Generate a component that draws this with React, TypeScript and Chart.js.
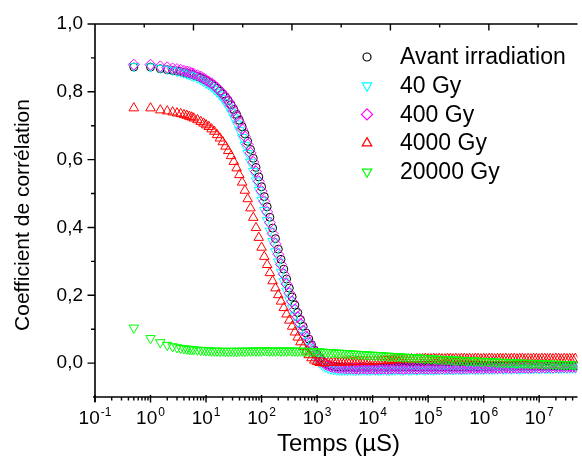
import React, { useEffect, useRef } from 'react';
import { Chart, registerables } from 'chart.js';

Chart.register(...registerables);

const FONT = '"Liberation Sans", Arial, sans-serif';

// Lag times (µs)
const TIME = [
  0.5, 1, 1.5, 2, 2.5, 3, 3.5, 4, 4.5, 5, 5.5, 6, 7, 8, 9,
  1e1, 1.12e1, 1.26e1, 1.41e1, 1.58e1, 1.78e1, 2e1, 2.24e1, 2.51e1, 2.82e1, 3.16e1, 3.55e1, 3.98e1, 4.47e1, 5.01e1, 5.62e1, 6.31e1, 7.08e1, 7.94e1, 8.91e1,
  1e2, 1.12e2, 1.26e2, 1.41e2, 1.58e2, 1.78e2, 2e2, 2.24e2, 2.51e2, 2.82e2, 3.16e2, 3.55e2, 3.98e2, 4.47e2, 5.01e2, 5.62e2, 6.31e2, 7.08e2, 7.94e2, 8.91e2,
  1e3, 1.12e3, 1.26e3, 1.41e3, 1.58e3, 1.78e3, 2e3, 2.24e3, 2.51e3, 2.82e3, 3.16e3, 3.55e3, 3.98e3, 4.47e3, 5.01e3, 5.62e3, 6.31e3, 7.08e3, 7.94e3, 8.91e3,
  1e4, 1.12e4, 1.26e4, 1.41e4, 1.58e4, 1.78e4, 2e4, 2.24e4, 2.51e4, 2.82e4, 3.16e4, 3.55e4, 3.98e4, 4.47e4, 5.01e4, 5.62e4, 6.31e4, 7.08e4, 7.94e4, 8.91e4,
  1e5, 1.12e5, 1.26e5, 1.41e5, 1.58e5, 1.78e5, 2e5, 2.24e5, 2.51e5, 2.82e5, 3.16e5, 3.55e5, 3.98e5, 4.47e5, 5.01e5, 5.62e5, 6.31e5, 7.08e5, 7.94e5, 8.91e5,
  1e6, 1.12e6, 1.26e6, 1.41e6, 1.58e6, 1.78e6, 2e6, 2.24e6, 2.51e6, 2.82e6, 3.16e6, 3.55e6, 3.98e6, 4.47e6, 5.01e6, 5.62e6, 6.31e6, 7.08e6, 7.94e6, 8.91e6,
  1e7, 1.12e7, 1.26e7, 1.41e7, 1.58e7, 1.78e7, 2e7, 2.24e7, 2.51e7, 2.82e7, 3.16e7, 3.55e7, 3.98e7, 4.47e7,
];

const AVANT = [
  0.873, 0.873, 0.868, 0.865, 0.863, 0.861, 0.859, 0.857, 0.855, 0.853, 0.851, 0.849, 0.845, 0.841, 0.837,
  0.833, 0.828, 0.823, 0.817, 0.810, 0.802, 0.794, 0.785, 0.774, 0.762, 0.748, 0.733, 0.716, 0.697, 0.676, 0.654, 0.630, 0.604, 0.577, 0.549,
  0.520, 0.491, 0.461, 0.430, 0.398, 0.367, 0.336, 0.306, 0.277, 0.248, 0.221, 0.195, 0.171, 0.149, 0.128, 0.108, 0.089, 0.071, 0.054, 0.039,
  0.026, 0.015, 0.006, -0.001, -0.005, -0.008, -0.010, -0.011, -0.012, -0.012, -0.013, -0.012, -0.012, -0.013, -0.012, -0.013, -0.012, -0.012, -0.013, -0.012,
  -0.012, -0.013, -0.012, -0.012, -0.012, -0.013, -0.012, -0.012, -0.011, -0.012, -0.012, -0.012, -0.011, -0.012, -0.012, -0.011, -0.012, -0.011, -0.012, -0.011,
  -0.011, -0.012, -0.011, -0.011, -0.012, -0.011, -0.011, -0.010, -0.011, -0.011, -0.010, -0.011, -0.011, -0.010, -0.011, -0.010, -0.010, -0.011, -0.010, -0.010,
  -0.010, -0.011, -0.010, -0.010, -0.009, -0.010, -0.010, -0.009, -0.010, -0.010, -0.009, -0.010, -0.009, -0.009, -0.010, -0.009, -0.009, -0.010, -0.009, -0.009,
  -0.009, -0.010, -0.009, -0.009, -0.008, -0.009, -0.009, -0.008, -0.009, -0.009, -0.008, -0.009, -0.008, -0.008,
];

const GY40 = [
  0.875, 0.874, 0.870, 0.867, 0.864, 0.861, 0.859, 0.856, 0.853, 0.851, 0.848, 0.846, 0.841, 0.836, 0.831,
  0.826, 0.821, 0.815, 0.808, 0.800, 0.791, 0.781, 0.769, 0.756, 0.741, 0.724, 0.706, 0.687, 0.666, 0.643, 0.619, 0.593, 0.566, 0.538, 0.510,
  0.481, 0.451, 0.421, 0.390, 0.359, 0.329, 0.299, 0.269, 0.241, 0.213, 0.187, 0.163, 0.140, 0.119, 0.099, 0.081, 0.064, 0.048, 0.034, 0.021,
  0.010, 0.001, -0.006, -0.011, -0.015, -0.017, -0.019, -0.020, -0.020, -0.021, -0.020, -0.021, -0.020, -0.020, -0.021, -0.020, -0.021, -0.020, -0.020, -0.021,
  -0.020, -0.020, -0.021, -0.020, -0.020, -0.020, -0.021, -0.020, -0.020, -0.019, -0.020, -0.020, -0.019, -0.020, -0.020, -0.019, -0.020, -0.019, -0.019, -0.020,
  -0.019, -0.019, -0.020, -0.019, -0.019, -0.018, -0.019, -0.019, -0.018, -0.019, -0.018, -0.018, -0.019, -0.018, -0.018, -0.018, -0.017, -0.018, -0.018, -0.017,
  -0.018, -0.017, -0.017, -0.018, -0.017, -0.017, -0.016, -0.017, -0.017, -0.016, -0.017, -0.016, -0.016, -0.017, -0.016, -0.016, -0.015, -0.016, -0.016, -0.015,
  -0.016, -0.015, -0.015, -0.016, -0.015, -0.015, -0.014, -0.015, -0.015, -0.014, -0.015, -0.014, -0.014, -0.014,
];

const GY400 = [
  0.880, 0.880, 0.875, 0.872, 0.869, 0.867, 0.865, 0.862, 0.860, 0.858, 0.855, 0.853, 0.849, 0.845, 0.840,
  0.835, 0.830, 0.825, 0.819, 0.811, 0.803, 0.794, 0.784, 0.772, 0.759, 0.744, 0.728, 0.710, 0.690, 0.668, 0.645, 0.620, 0.593, 0.565, 0.536,
  0.507, 0.477, 0.446, 0.414, 0.382, 0.352, 0.321, 0.291, 0.262, 0.233, 0.206, 0.181, 0.158, 0.136, 0.116, 0.096, 0.079, 0.062, 0.047, 0.033,
  0.021, 0.011, 0.003, -0.003, -0.007, -0.010, -0.012, -0.013, -0.014, -0.015, -0.015, -0.016, -0.015, -0.016, -0.016, -0.017, -0.016, -0.016, -0.017, -0.016,
  -0.016, -0.017, -0.016, -0.016, -0.016, -0.017, -0.016, -0.016, -0.015, -0.016, -0.016, -0.017, -0.016, -0.016, -0.015, -0.016, -0.016, -0.015, -0.016, -0.016,
  -0.016, -0.015, -0.016, -0.016, -0.015, -0.016, -0.015, -0.015, -0.016, -0.015, -0.015, -0.015, -0.016, -0.015, -0.015, -0.014, -0.015, -0.015, -0.014, -0.015,
  -0.015, -0.014, -0.015, -0.014, -0.014, -0.015, -0.014, -0.014, -0.013, -0.014, -0.014, -0.013, -0.014, -0.013, -0.013, -0.013, -0.014, -0.013, -0.013, -0.012,
  -0.013, -0.012, -0.013, -0.012, -0.012, -0.013, -0.012, -0.012, -0.011, -0.012, -0.012, -0.011, -0.012, -0.011,
];

const GY4000 = [
  0.752, 0.752, 0.746, 0.743, 0.740, 0.737, 0.735, 0.732, 0.730, 0.727, 0.725, 0.722, 0.717, 0.712, 0.707,
  0.702, 0.697, 0.690, 0.683, 0.673, 0.663, 0.652, 0.639, 0.626, 0.611, 0.594, 0.575, 0.555, 0.533, 0.509, 0.484, 0.457, 0.429, 0.399, 0.370,
  0.341, 0.314, 0.290, 0.266, 0.242, 0.221, 0.201, 0.182, 0.163, 0.144, 0.126, 0.108, 0.091, 0.076, 0.062, 0.048, 0.035, 0.024, 0.015, 0.008,
  0.004, 0.001, 0.000, 0.000, 0.001, 0.001, 0.002, 0.002, 0.002, 0.003, 0.003, 0.003, 0.004, 0.003, 0.004, 0.004, 0.004, 0.005, 0.004, 0.005,
  0.005, 0.006, 0.006, 0.007, 0.007, 0.008, 0.008, 0.009, 0.009, 0.010, 0.010, 0.011, 0.011, 0.011, 0.012, 0.011, 0.012, 0.012, 0.012, 0.013,
  0.012, 0.012, 0.013, 0.012, 0.013, 0.012, 0.012, 0.013, 0.013, 0.012, 0.013, 0.012, 0.013, 0.013, 0.012, 0.013, 0.012, 0.013, 0.013, 0.012,
  0.013, 0.012, 0.013, 0.013, 0.012, 0.013, 0.013, 0.012, 0.013, 0.012, 0.013, 0.013, 0.012, 0.013, 0.013, 0.012, 0.013, 0.012, 0.013, 0.013,
  0.012, 0.013, 0.013, 0.012, 0.013, 0.012, 0.013, 0.013, 0.012, 0.013, 0.012, 0.013, 0.012, 0.013,
];

const GY20000 = [
  0.104, 0.073, 0.061, 0.053, 0.049, 0.046, 0.044, 0.043, 0.042, 0.041, 0.040, 0.040, 0.039, 0.038, 0.038,
  0.037, 0.037, 0.036, 0.036, 0.036, 0.035, 0.036, 0.035, 0.035, 0.036, 0.035, 0.035, 0.036, 0.036, 0.035, 0.036, 0.036, 0.037, 0.036, 0.036,
  0.036, 0.037, 0.037, 0.036, 0.036, 0.036, 0.037, 0.036, 0.036, 0.036, 0.037, 0.036, 0.036, 0.035, 0.036, 0.036, 0.035, 0.035, 0.035, 0.034,
  0.034, 0.034, 0.033, 0.032, 0.032, 0.031, 0.031, 0.030, 0.030, 0.029, 0.029, 0.028, 0.028, 0.027, 0.027, 0.026, 0.026, 0.025, 0.025, 0.024,
  0.024, 0.023, 0.023, 0.022, 0.022, 0.021, 0.021, 0.020, 0.020, 0.019, 0.019, 0.018, 0.018, 0.017, 0.017, 0.016, 0.016, 0.015, 0.015, 0.014,
  0.014, 0.013, 0.013, 0.012, 0.012, 0.011, 0.011, 0.011, 0.010, 0.010, 0.009, 0.009, 0.009, 0.008, 0.008, 0.007, 0.007, 0.007, 0.006, 0.006,
  0.005, 0.005, 0.005, 0.004, 0.004, 0.003, 0.003, 0.003, 0.002, 0.002, 0.002, 0.001, 0.001, 0.001, 0.000, 0.000, 0.000, -0.001, -0.001, -0.001,
  -0.001, -0.002, -0.002, -0.002, -0.002, -0.003, -0.003, -0.003, -0.003, -0.004, -0.004, -0.004, -0.004, -0.005,
];

const SERIES_LABELS = ['Avant irradiation', '40 Gy', '400 Gy', '4000 Gy', '20000 Gy'];
const SERIES_VALUES = [AVANT, GY40, GY400, GY4000, GY20000];
const SERIES_COLORS = ['#000000', '#00FFFF', '#FF00FF', '#FF0000', '#00FF00'];
const SERIES_STYLES = ['circle', 'triangle', 'rectRot', 'triangle', 'triangle'];
const SERIES_ROTATION = [0, 180, 0, 0, 180];
const SERIES_RADIUS = [4, 5.5, 5.5, 5.5, 5.5];
const SERIES_ORDER = [5, 4, 3, 2, 1];

const X_MIN = 0.1;
const X_MAX = 4.9e7;
const Y_MIN = -0.1;
const Y_MAX = 1.0;
const X_DECADES = [-1, 0, 1, 2, 3, 4, 5, 6, 7];
const Y_TICKS = [0, 0.2, 0.4, 0.6, 0.8, 1.0];
const Y_MINOR = [0.1, 0.3, 0.5, 0.7, 0.9];
const TOP_TICKS = [5e6, 1e7, 1.5e7, 2e7, 2.5e7, 3e7, 3.5e7, 4e7, 4.5e7];

const X_TITLE = 'Temps (µS)';
const Y_TITLE = 'Coefficient de corrélation';

function drawMarker(ctx: CanvasRenderingContext2D, style: string, rot: number, x: number, y: number, r: number) {
  ctx.beginPath();
  if (style === 'circle') {
    ctx.arc(x, y, r, 0, Math.PI * 2);
  } else if (style === 'rectRot') {
    ctx.moveTo(x, y - r);
    ctx.lineTo(x + r, y);
    ctx.lineTo(x, y + r);
    ctx.lineTo(x - r, y);
    ctx.closePath();
  } else {
    let a = (rot * Math.PI) / 180;
    for (let i = 0; i < 3; i++) {
      const px = x + Math.sin(a) * r;
      const py = y - Math.cos(a) * r;
      if (i === 0) ctx.moveTo(px, py);
      else ctx.lineTo(px, py);
      a += (2 * Math.PI) / 3;
    }
    ctx.closePath();
  }
  ctx.stroke();
}

const decorPlugin = {
  id: 'decor',
  afterDraw(chart: any) {
    const { ctx, chartArea: a, scales } = chart;
    const xs = scales.x;
    const ys = scales.y;
    const xt = scales.xTop;
    ctx.save();
    ctx.strokeStyle = '#000';
    ctx.fillStyle = '#000';
    ctx.lineWidth = 1.6;
    ctx.lineCap = 'butt';

    ctx.beginPath();
    ctx.moveTo(a.left, a.top);
    ctx.lineTo(a.left, a.bottom + 5);
    ctx.moveTo(a.left - 2, a.bottom);
    ctx.lineTo(a.right, a.bottom);
    ctx.moveTo(a.left, a.top);
    ctx.lineTo(a.right, a.top);
    ctx.stroke();

    ctx.lineWidth = 1.4;
    ctx.beginPath();
    for (const v of Y_TICKS) {
      const py = ys.getPixelForValue(v);
      ctx.moveTo(a.left - 7.5, py);
      ctx.lineTo(a.left, py);
    }
    for (const v of Y_MINOR) {
      const py = ys.getPixelForValue(v);
      ctx.moveTo(a.left - 4, py);
      ctx.lineTo(a.left, py);
    }
    for (const d of X_DECADES) {
      const base = Math.pow(10, d);
      const px = xs.getPixelForValue(base);
      ctx.moveTo(px, a.bottom - 2);
      ctx.lineTo(px, a.bottom + 5.5);
      for (let k = 2; k <= 9; k++) {
        const v = k * base;
        if (v > X_MAX) break;
        const pm = xs.getPixelForValue(v);
        ctx.moveTo(pm, a.bottom);
        ctx.lineTo(pm, a.bottom + 3.5);
      }
    }
    for (const v of TOP_TICKS) {
      const px = xt.getPixelForValue(v);
      const major = Math.round(v / 1e7) * 1e7 === v;
      ctx.moveTo(px, a.top);
      ctx.lineTo(px, a.top + (major ? 6.5 : 3.5));
    }
    ctx.stroke();

    ctx.textBaseline = 'alphabetic';
    ctx.textAlign = 'left';
    for (const d of X_DECADES) {
      const px = xs.getPixelForValue(Math.pow(10, d));
      const exp = String(d);
      ctx.font = `19px ${FONT}`;
      const w1 = ctx.measureText('10').width;
      ctx.font = `12px ${FONT}`;
      const w2 = ctx.measureText(exp).width;
      const sx = px - (w1 + w2 + 1) / 2;
      ctx.font = `19px ${FONT}`;
      ctx.fillText('10', sx, a.bottom + 27);
      ctx.font = `12px ${FONT}`;
      ctx.fillText(exp, sx + w1 + 1, a.bottom + 19);
    }

    ctx.textAlign = 'center';
    ctx.textBaseline = 'middle';
    ctx.font = `24px ${FONT}`;
    ctx.fillText(X_TITLE, (a.left + 582) / 2, 444);
    ctx.save();
    ctx.translate(23, 215);
    ctx.rotate(-Math.PI / 2);
    ctx.font = `21px ${FONT}`;
    ctx.fillText(Y_TITLE, 0, 0);
    ctx.restore();

    const lx = a.left + 272;
    const ly0 = a.top + 33;
    const dy = 28.7;
    ctx.lineWidth = 1.2;
    ctx.textAlign = 'left';
    ctx.textBaseline = 'middle';
    ctx.font = `23px ${FONT}`;
    chart.data.datasets.forEach((ds: any, i: number) => {
      const y = ly0 + i * dy;
      ctx.strokeStyle = SERIES_COLORS[i];
      const r = SERIES_STYLES[i] === 'circle' ? 4 : 5.5;
      drawMarker(ctx, SERIES_STYLES[i], SERIES_ROTATION[i], lx, y, r);
      ctx.fillStyle = '#000';
      ctx.fillText(ds.label, lx + 33, y + 1);
    });
    ctx.restore();
  },
};

export default function App() {
  const ref = useRef<HTMLCanvasElement>(null);

  useEffect(() => {
    const canvas = ref.current;
    if (!canvas) return;
    const datasets = SERIES_LABELS.map((label, i) => ({
      label,
      data: TIME.map((t, j) => ({ x: t, y: SERIES_VALUES[i][j] })),
      showLine: false,
      borderColor: SERIES_COLORS[i],
      backgroundColor: 'rgba(0,0,0,0)',
      pointStyle: SERIES_STYLES[i],
      pointRotation: SERIES_ROTATION[i],
      pointRadius: SERIES_RADIUS[i],
      pointBorderWidth: 1,
      pointBorderColor: SERIES_COLORS[i],
      pointBackgroundColor: 'rgba(0,0,0,0)',
      order: SERIES_ORDER[i],
    }));

    const chart = new Chart(canvas, {
      type: 'scatter',
      data: { datasets },
      options: {
        animation: false,
        responsive: false,
        devicePixelRatio: 1,
        events: [],
        layout: { padding: { top: 24, left: 0, right: 0, bottom: 0 } },
        plugins: { legend: { display: false }, tooltip: { enabled: false } },
        scales: {
          x: {
            type: 'logarithmic',
            position: 'bottom',
            min: X_MIN,
            max: X_MAX,
            grid: { display: false },
            border: { display: false },
            ticks: { display: false },
            afterBuildTicks: (scale: any) => {
              scale.ticks = X_DECADES.map((d) => ({ value: Math.pow(10, d) }));
            },
            afterFit: (scale: any) => {
              scale.height = 74;
            },
          },
          xTop: {
            type: 'linear',
            position: 'top',
            min: 0,
            max: X_MAX,
            display: false,
          },
          y: {
            type: 'linear',
            min: Y_MIN,
            max: Y_MAX,
            grid: { display: false },
            border: { display: false },
            afterBuildTicks: (scale: any) => {
              scale.ticks = Y_TICKS.map((v) => ({ value: v }));
            },
            afterFit: (scale: any) => {
              scale.width = 95;
            },
            ticks: {
              color: '#000',
              padding: 4,
              font: { family: FONT, size: 19 },
              callback: (v: any) => Number(v).toFixed(1).replace('.', ','),
            },
          },
        },
      },
      plugins: [decorPlugin],
    } as any);

    return () => chart.destroy();
  }, []);

  return (
    <div
      style={{
        position: 'fixed',
        left: 0,
        top: 0,
        width: 582,
        height: 471,
        overflow: 'hidden',
        background: '#fff',
      }}
    >
      <canvas ref={ref} width={584} height={471} style={{ display: 'block', width: 584, height: 471 }} />
    </div>
  );
}
